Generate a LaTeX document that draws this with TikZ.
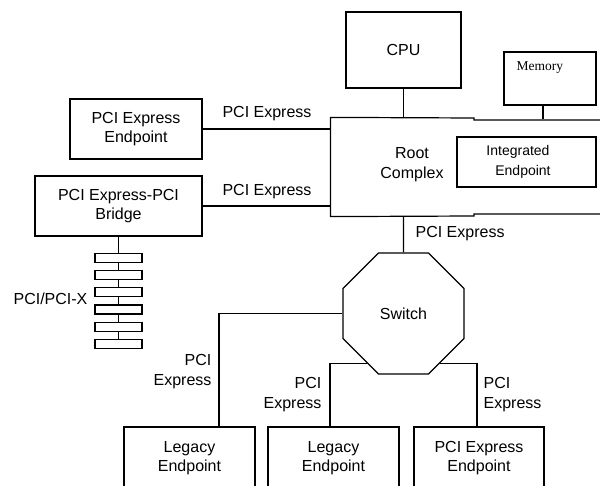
\documentclass[tikz,border=0pt]{standalone}
\usepackage{fontspec}
\setmainfont{Liberation Sans}
\newfontfamily\serifmem{Liberation Serif}
\usetikzlibrary{shapes.geometric}
\tikzset{
  box/.style={draw, rectangle, inner sep=0pt, align=center, font=\fontsize{16}{19}\selectfont},
  busrect/.style={draw, fill=white, rectangle, inner sep=0pt, minimum width=47, minimum height=9},
  lbl/.style={inner sep=0pt, font=\fontsize{16}{20}\selectfont},
}
\begin{document}
\begin{tikzpicture}[x=1pt,y=-1pt,line width=1.2pt]
\useasboundingbox (0,0) rectangle (600,486);
\clip (0,0) rectangle (600,486);
% boxes
\node[box, minimum width=115, minimum height=76] (cpu) at (403.5,50) {CPU};
\node[box, minimum width=92, minimum height=53] (mem) at (550,78.5) {};
\node[inner sep=0pt, anchor=west, font=\serifmem\fontsize{13.5}{16}\selectfont] (memtxt) at (516,68) {Memory};
\node[inner sep=0pt, minimum width=269, minimum height=98] (rc) at (465.5,167) {};
\draw (600,120) -- (474,120) -- (474,118) -- (rc.north west) -- (rc.south west) -- (474,216) -- (474,214) -- (600,214);
\node[lbl, align=center] (rctxt) at (412,165) {Root\\Complex};
\node[box, minimum width=139, minimum height=50] (ie) at (526.5,162) {};
\node[inner sep=0pt, align=center, font=\fontsize{14}{20}\selectfont] (ietxt) at (518,162) {Integrated\\\hspace*{10pt}Endpoint};
\node[box, minimum width=132, minimum height=60] (pe) at (136,129) {PCI Express\\Endpoint};
\node[box, minimum width=167, minimum height=60] (br) at (118.5,206) {PCI Express-PCI\\Bridge};
\node[draw, regular polygon, regular polygon sides=8, minimum size=131, inner sep=0pt, font=\fontsize{16}{19}\selectfont] (sw) at (403.5,313.5) {Switch};
\node[box, minimum width=131, minimum height=62] (le1) at (189.5,458) {Legacy\\Endpoint};
\node[box, minimum width=131, minimum height=62] (le2) at (333.5,458) {Legacy\\Endpoint};
\node[box, minimum width=130, minimum height=62] (pee) at (479,458) {PCI Express\\Endpoint};
% connectors
\draw (cpu.south) -- (cpu.south |- rc.north);
\draw ([xshift=-7]mem.south) -- ([xshift=-7,yshift=-2]mem.south |- rc.north);
\draw (pe.east) -- (pe.east -| rc.west);
\draw (br.east) -- (br.east -| rc.west);
\draw (cpu.south |- rc.south) -- (sw.north);
\draw (sw.west) -| ([xshift=29.5]le1.north);
\draw (sw.234) -| ([xshift=-3.5]le2.north);
\draw (sw.306) -| ([xshift=-2]pee.north);
% PCI bus
\foreach \i in {1,...,6} {
  \node[busrect] (b\i) at (118.5,{258+17.2*(\i-1)}) {};
}
\draw (br.south) -- (b1.north);
\foreach \i/\j in {1/2,2/3,3/4,4/5,5/6} {
  \draw (b\i.south) -- (b\j.north);
}
% labels
\node[lbl] (l1) at (267,114) {PCI Express};
\node[lbl] (l2) at (267,192) {PCI Express};
\node[lbl, anchor=west] (l3) at (415,234) {PCI Express};
\node[lbl, anchor=east] (l4) at (88,299) {PCI/PCI-X};
\node[lbl, anchor=east, align=right] (l5) at (212,372) {PCI\\Express};
\node[lbl, anchor=east, align=right] (l6) at (322,395) {PCI\\Express};
\node[lbl, anchor=west, align=left] (l7) at (483,395) {PCI\\Express};
\end{tikzpicture}
\end{document}
